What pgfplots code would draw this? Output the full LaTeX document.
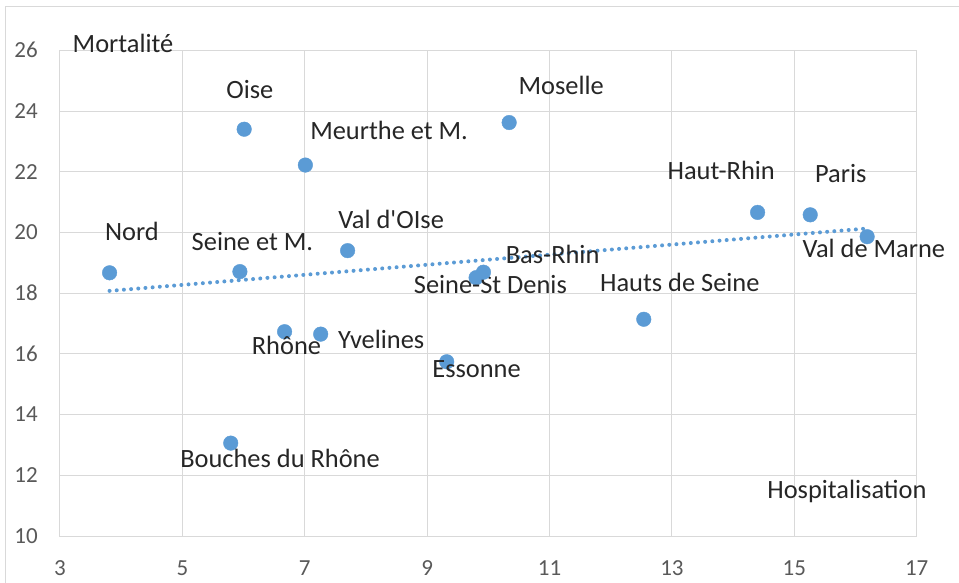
\documentclass[border=0pt]{standalone}
\usepackage{pgfplots}
\pgfplotsset{compat=1.18}
\usepackage{pgfplotstable}
\usepackage{fontspec}
\setmainfont{Carlito}
\definecolor{ptc}{HTML}{5B9BD5}
\definecolor{gridc}{HTML}{D9D9D9}
\definecolor{tickc}{HTML}{595959}
\definecolor{lab}{HTML}{262626}

\pgfplotstableread{
x y dx dy label
3.81 18.67 22.4 32 Nord
5.79 13.06 49.3 -24 {Bouches du Rhône}
5.94 18.71 12.5 21 {Seine et M.}
6.01 23.40 5.7 30.6 Oise
6.67 16.73 1.9 -22.3 Rhône
7.01 22.22 83.7 25.7 {Meurthe et M.}
7.26 16.65 60.5 -14 Yvelines
7.70 19.40 43.6 22 {Val d\textquotesingle OIse}
9.32 15.74 29.8 -15.6 Essonne
9.80 18.51 14.3 -16.3 {Seine-St Denis}
9.92 18.69 69.2 9 Bas-Rhin
10.34 23.62 52 27.7 Moselle
12.54 17.14 36 27.6 {Hauts de Seine}
14.40 20.66 -36.4 33 Haut-Rhin
15.26 20.58 30.5 32.3 Paris
16.19 19.86 6.7 -20.6 {Val de Marne}
}\data

\begin{document}
\begin{tikzpicture}
\useasboundingbox (0,0) rectangle (959pt,582pt);
\draw[gridc, line width=1pt] (5pt,-20pt) rectangle (990pt,575pt);
\begin{axis}[
  at={(60pt,46pt)}, anchor=south west,
  scale only axis, width=856.7pt, height=485.7pt,
  xmin=3, xmax=17, ymin=10, ymax=26,
  xtick={3,5,...,17}, ytick={10,12,...,26},
  grid=major, major grid style={gridc, line width=1pt},
  axis line style={gridc, line width=1pt},
  major tick length=0pt,
  tick label style={font=\fontsize{23}{27}\selectfont, text=tickc},
  xticklabel style={anchor=center, inner sep=0pt, yshift=-32pt},
  yticklabel style={anchor=east, inner sep=0pt, xshift=-22pt},
  /pgf/number format/assume math mode=true,
  clip=false,
]
\addplot[ptc, line width=4pt, line cap=round, dash pattern=on 0pt off 7.2pt]
  table[x=x, y={create col/linear regression={y=y}}]{\data};
\addplot[color=ptc, only marks, mark=*, mark size=7.3pt, mark options={fill=ptc, draw=ptc, line width=0.4pt},
  point meta=explicit symbolic,
  visualization depends on={\thisrow{dx} \as \dx},
  visualization depends on={\thisrow{dy} \as \dy},
  nodes near coords,
  every node near coord/.style={anchor=base, xshift=\dx pt, yshift=\dy pt,
    font=\fontsize{26.4}{30}\selectfont, text=lab, inner sep=0pt},
] table[x=x, y=y, meta=label]{\data};
\node[anchor=base, font=\fontsize{26.4}{30}\selectfont, text=lab, inner sep=0pt]
  at (axis cs:4.03,25.93) {Mortalité};
\node[anchor=base, font=\fontsize{26.4}{30}\selectfont, text=lab, inner sep=0pt]
  at (axis cs:15.86,11.24) {Hospitalisation};
\end{axis}
\end{tikzpicture}
\end{document}
